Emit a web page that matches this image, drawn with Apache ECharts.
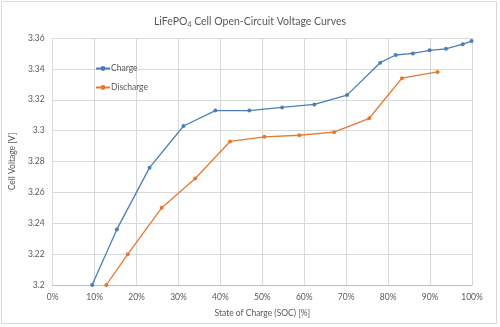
<!DOCTYPE html>
<html><head><meta charset="utf-8">
<script src="https://cdn.jsdelivr.net/npm/echarts@6/dist/echarts.min.js"></script>
<style>html,body{margin:0;padding:0;background:#fff}#c{width:500px;height:327px}</style>
</head><body><div id="c"></div>
<script>
const chargeSOC = [9.4, 15.3, 23.1, 31.2, 38.8, 46.9, 54.7, 62.4, 70.2, 78.1, 81.8, 85.9, 89.9, 93.8, 97.8, 99.9];
const chargeV   = [3.200, 3.236, 3.276, 3.303, 3.313, 3.313, 3.315, 3.317, 3.323, 3.344, 3.349, 3.350, 3.352, 3.353, 3.356, 3.358];
const dischargeSOC = [12.8, 17.9, 26.0, 34.0, 42.3, 50.5, 58.8, 67.1, 75.5, 83.3, 91.8];
const dischargeV   = [3.200, 3.220, 3.250, 3.269, 3.293, 3.296, 3.297, 3.299, 3.308, 3.334, 3.338];
const seriesNames = ['Charge', 'Discharge'];
const titleMain = 'LiFePO';
const titleSub = '4';
const titleRest = ' Cell Open-Circuit Voltage Curves';
const xName = 'State of Charge (SOC) [%]';
const yName = 'Cell Voltage [V]';

const FONT = 'Lato';
const TXT = '#595959';
const chart = echarts.init(document.getElementById('c'), null, {renderer: 'canvas'});
const pairs = (xs, ys) => xs.map((x, i) => [x, ys[i]]);
chart.setOption({
  animation: false,
  backgroundColor: '#fff',
  graphic: [{type: 'rect', shape: {x: 1.5, y: 1.5, width: 495, height: 322}, style: {fill: 'none', stroke: '#D9D9D9', lineWidth: 1}, silent: true}],
  title: {
    text: titleMain + '{sub|' + titleSub + '}' + titleRest,
    left: 'center', top: 11,
    textStyle: {fontFamily: FONT, fontSize: 10.5, fontWeight: 'normal', color: TXT,
      rich: {sub: {fontFamily: FONT, fontSize: 7, color: TXT, verticalAlign: 'bottom', padding: [5, 0, 0, 0]}}}
  },
  legend: {
    orient: 'vertical', left: 90, top: 59, itemGap: 10, itemWidth: 14, itemHeight: 6,
    textStyle: {fontFamily: FONT, fontSize: 8.5, color: TXT, padding: [0, 0, 0, -4]},
    data: seriesNames
  },
  grid: {left: 48, right: 28, top: 38, bottom: 42, containLabel: false},
  xAxis: {
    type: 'value', min: 0, max: 100, interval: 10,
    name: xName, nameLocation: 'middle', nameGap: 24,
    nameTextStyle: {fontFamily: FONT, fontSize: 8.5, color: TXT},
    axisLine: {show: true, lineStyle: {color: '#BFBFBF'}},
    axisTick: {show: false},
    axisLabel: {fontFamily: FONT, fontSize: 8.5, color: TXT, margin: 8, formatter: v => v + '%'},
    splitLine: {show: true, lineStyle: {color: '#D9D9D9'}}
  },
  yAxis: {
    type: 'value', min: 3.2, max: 3.36, interval: 0.02,
    name: yName, nameLocation: 'middle', nameGap: 30,
    nameTextStyle: {fontFamily: FONT, fontSize: 8.5, color: TXT},
    axisLine: {show: false}, axisTick: {show: false},
    axisLabel: {fontFamily: FONT, fontSize: 8.5, color: TXT, margin: 8, formatter: v => String(+v.toFixed(2))},
    splitLine: {show: true, lineStyle: {color: '#D9D9D9'}}
  },
  series: [
    {name: seriesNames[0], type: 'line', data: pairs(chargeSOC, chargeV), symbol: 'circle', symbolSize: 4,
     lineStyle: {color: '#4A7EBB', width: 1.3}, itemStyle: {color: '#4A7EBB'}},
    {name: seriesNames[1], type: 'line', data: pairs(dischargeSOC, dischargeV), symbol: 'circle', symbolSize: 4,
     lineStyle: {color: '#E8782F', width: 1.3}, itemStyle: {color: '#E8782F'}}
  ]
});
</script></body></html>
